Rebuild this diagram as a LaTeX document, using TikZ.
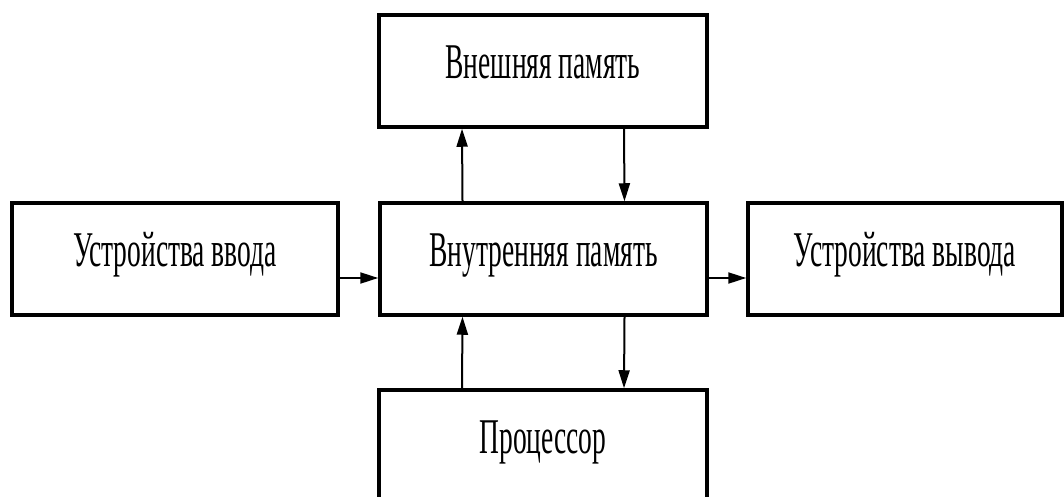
\documentclass[tikz,border=0pt]{standalone}
\usepackage{fontspec}
\usepackage{tikz}
\usetikzlibrary{arrows.meta}
\newfontfamily\boxfont{Liberation Serif}[FakeStretch=0.55]

\begin{document}
\begin{tikzpicture}[x=1pt,y=-1pt,
    box/.style={draw,line width=3.5pt,minimum height=112pt,inner sep=0pt,
        font=\boxfont\fontsize{50}{50}\selectfont,text height=35pt,text depth=20pt},
    arr/.style={line width=2pt,-{Triangle[length=18pt,width=11pt]}}]
            \useasboundingbox (0,0) rectangle (1064,497);

            \node[box,minimum width=328pt] (vnesh) at (543,71) {Внешняя память};
            \node[box,minimum width=326pt] (vvod) at (175,259) {Устройства ввода};
            \node[box,minimum width=327pt] (vnutr) at (543.5,259) {Внутренняя память};
            \node[box,minimum width=314pt] (vyvod) at (905,259) {Устройства вывода};
            \node[box,minimum width=328pt] (proc) at (543,446) {Процессор};

            \draw[arr] ([xshift=-81pt]vnutr.north) -- ([xshift=-81pt]vnesh.south);
            \draw[arr] ([xshift=81pt]vnesh.south) -- ([xshift=81pt]vnutr.north);
            \draw[arr] ([xshift=-81pt]proc.north) -- ([xshift=-81pt]vnutr.south);
            \draw[arr] ([xshift=81pt]vnutr.south) -- ([xshift=81pt]proc.north);
            \draw[arr] ([yshift=-19pt]vvod.east) -- ([yshift=-19pt]vnutr.west);
            \draw[arr] ([yshift=-19pt]vnutr.east) -- ([yshift=-19pt]vyvod.west);
        \end{tikzpicture}
\end{document}
